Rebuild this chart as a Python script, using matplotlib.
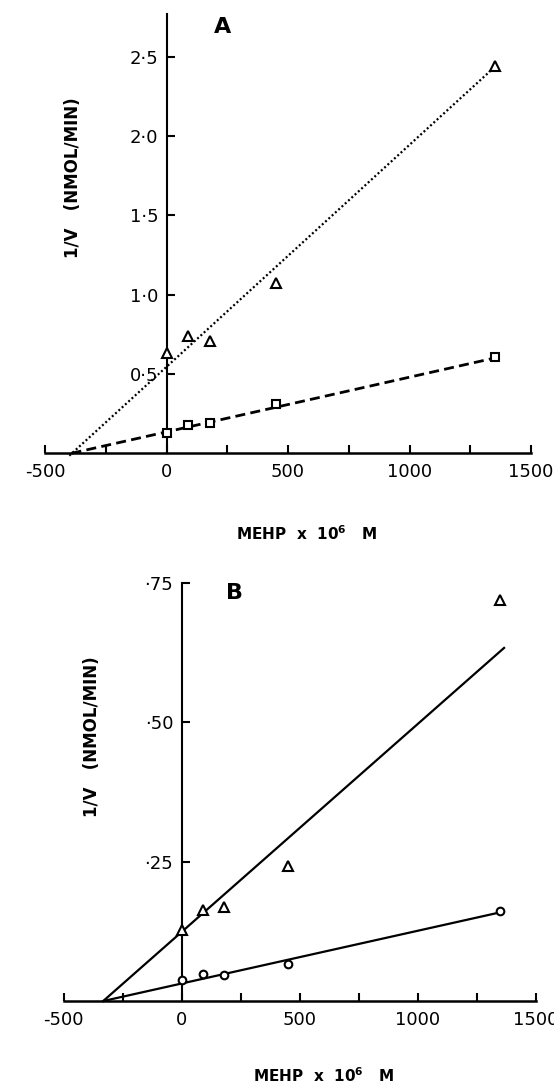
import matplotlib.pyplot as plt
from matplotlib.ticker import FixedLocator

# MEHP concentration (x 10^6 M)
mehp = [0, 90, 180, 450, 1350]

# panel A: 1/V values
a_triangle = [0.63, 0.74, 0.71, 1.075, 2.44]
a_square = [0.126, 0.179, 0.193, 0.311, 0.606]
# fitted lines: (intercept, slope) and x range drawn
a_tri_fit = (0.545, 0.00140)
a_tri_span = (-400, 1345)
a_sq_fit = (0.135, 0.000345)
a_sq_span = (-391, 1345)

# panel B: 1/V values
b_triangle = [0.127, 0.163, 0.168, 0.242, 0.719]
b_circle = [0.0377, 0.048, 0.047, 0.066, 0.1616]
b_tri_fit = (0.124, 0.000373)
b_tri_span = (-332, 1366)
b_circ_fit = (0.0314, 0.0000946)
b_circ_span = (-332, 1330)

x_major = [-500, 0, 500, 1000, 1500]
x_minor = [-250, 250, 750, 1250]
x_labels = ["-500", "0", "500", "1000", "1500"]
a_yticks = [0.5, 1.0, 1.5, 2.0, 2.5]
a_ylabels = ["0·5", "1·0", "1·5", "2·0", "2·5"]
b_yticks = [0.25, 0.50, 0.75]
b_ylabels = ["·25", "·50", "·75"]

W, H = 554, 1088
plt.rcParams["font.family"] = "DejaVu Sans"
plt.rcParams["mathtext.default"] = "bf"


def fit_line(ax, fit, span, **kw):
    b0, m = fit
    xs = list(span)
    ys = [b0 + m * x for x in xs]
    ax.plot(xs, ys, color="black", clip_on=False, zorder=2, **kw)


def style_axes(ax, ylim, yticks, ylabels):
    ax.set_xlim(-500, 1500)
    ax.set_ylim(*ylim)
    for s in ("top", "right"):
        ax.spines[s].set_visible(False)
    ax.spines["left"].set_position(("data", 0))
    ax.spines["left"].set_linewidth(1.5)
    ax.spines["bottom"].set_linewidth(1.8)
    ax.xaxis.set_major_locator(FixedLocator(x_major))
    ax.xaxis.set_minor_locator(FixedLocator(x_minor))
    ax.set_xticklabels(x_labels)
    ax.tick_params(axis="x", which="both", direction="in", length=6, width=1.5)
    ax.tick_params(axis="x", which="major", labelsize=13, pad=7)
    ax.set_yticks(yticks, ylabels)
    ax.tick_params(axis="y", direction="in", length=6, width=1.5,
                   labelsize=13, pad=6)
    ax.patch.set_visible(False)


fig = plt.figure(figsize=(W / 100, H / 100), dpi=100)

# panel A
ax_a = fig.add_axes([45 / W, 1 - 453.3 / H, 486 / W, 439.3 / H])
style_axes(ax_a, (0, 2.77), a_yticks, a_ylabels)
fit_line(ax_a, a_tri_fit, a_tri_span, lw=1.6, linestyle=(0, (0.9, 1.1)))
fit_line(ax_a, a_sq_fit, a_sq_span, lw=2.0, linestyle=(0, (3.6, 1.9)))
ax_a.plot(mehp, a_triangle, "^", ms=7.5, mfc="white", mec="black", mew=1.5,
          zorder=3, clip_on=False)
ax_a.plot(mehp, a_square, "s", ms=5.5, mfc="white", mec="black", mew=1.5,
          zorder=3, clip_on=False)

# panel B
ax_b = fig.add_axes([63.7 / W, 1 - 1001 / H, 472 / W, 418 / H])
style_axes(ax_b, (0, 0.75), b_yticks, b_ylabels)
fit_line(ax_b, b_tri_fit, b_tri_span, lw=1.6)
fit_line(ax_b, b_circ_fit, b_circ_span, lw=1.6)
ax_b.plot(mehp, b_triangle, "^", ms=7.5, mfc="white", mec="black", mew=1.5,
          zorder=3, clip_on=False)
ax_b.plot(mehp, b_circle, "o", ms=5.5, mfc="white", mec="black", mew=1.5,
          zorder=3, clip_on=False)

# labels
ylab = "1/V   (NMOL/MIN)"
xlab = "MEHP  x  10$^{6}$   M"
fig.text(72.7 / W, 1 - 178 / H, ylab, rotation=90, ha="center", va="center",
         fontsize=12, fontweight="bold")
fig.text(91.7 / W, 1 - 737 / H, ylab, rotation=90, ha="center", va="center",
         fontsize=12, fontweight="bold")
fig.text(307 / W, 1 - 534 / H, xlab, ha="center", va="center", fontsize=11,
         fontweight="bold")
fig.text(324 / W, 1 - 1076 / H, xlab, ha="center", va="center", fontsize=11,
         fontweight="bold")
fig.text(223 / W, 1 - 27 / H, "A", ha="center", va="center", fontsize=16,
         fontweight="bold")
fig.text(235 / W, 1 - 593 / H, "B", ha="center", va="center", fontsize=16,
         fontweight="bold")

fig.savefig("out.png", dpi=100)
